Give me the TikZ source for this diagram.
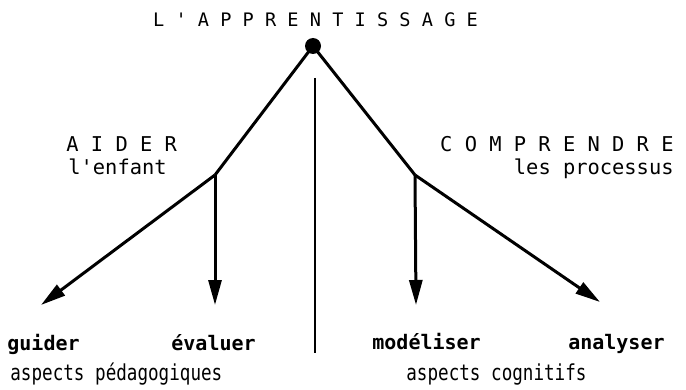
\documentclass[tikz,border=0pt]{standalone}
\usepackage{fontspec}
\setmonofont{DejaVu Sans Mono}
\newfontfamily\narrowmono[FakeStretch=0.8]{DejaVu Sans Mono}
\usepackage{tikz}
\usetikzlibrary{arrows.meta,positioning}

\begin{document}
\begin{tikzpicture}[
  x=0.5pt, y=-0.5pt,
  label/.style={font=\ttfamily\fontsize{10.2}{11}\selectfont, inner sep=0pt, anchor=base},
  title/.style={label, font=\ttfamily\fontsize{9.3}{11}\selectfont},
  leaf/.style={label, font=\ttfamily\bfseries\fontsize{10}{11}\selectfont},
  aspect/.style={label, font=\narrowmono\fontsize{11}{12}\selectfont},
  dot/.style={circle, fill=black, inner sep=0pt, minimum size=8pt},
  branch/.style={line width=1.5pt},
  arr/.style={line width=1.5pt, -{Triangle[length=12.5pt, width=6.5pt]}},
]
  \useasboundingbox (0,0) rectangle (686,390);

  % Top: title and root dot
  \node[title] (title) at (315.5,27) {L ' A P P R E N T I S S A G E};
  \node[dot] (root) at (313,46) {};

  % Branch points
  \coordinate (aider) at (215,175);
  \coordinate (compr) at (415,175);

  % Branch labels
  \node[label, anchor=base west] (aidtxt) at (66,152) {A I D E R};
  \node[label, anchor=base west] (enfant) at (68,175) {l'enfant};
  \node[label, anchor=base east] (comptxt) at (674,152) {C O M P R E N D R E};
  \node[label, anchor=base east] (processus) at (674,175) {les processus};

  % Arrow tips
  \coordinate (guidetip) at (41,305);
  \coordinate (evaltip) at (215,305);
  \coordinate (modtip) at (416,305);
  \coordinate (analtip) at (600,302);

  % Bottom labels
  \node[leaf, anchor=base west] (guider) at (7,350) {guider};
  \node[leaf, anchor=base west] (evaluer) at (171,350) {évaluer};
  \node[leaf, anchor=base west] (modeliser) at (372,349) {modéliser};
  \node[leaf, anchor=base east] (analyser) at (665,349) {analyser};
  \node[aspect, anchor=base west] (pedago) at (10,380) {aspects pédagogiques};
  \node[aspect, anchor=base west] (cognit) at (406,380) {aspects cognitifs};

  % Divider
  \coordinate (divtop) at (315,78);
  \coordinate (divbot) at (315,353);
  \draw[line width=0.8pt] (divtop) -- (divbot);

  % Lines and arrows
  \draw[branch] (root.center) -- (aider);
  \draw[branch] (root.center) -- (compr);
  \draw[arr] (aider) -- (guidetip);
  \draw[arr] (aider) -- (evaltip);
  \draw[arr] (compr) -- (modtip);
  \draw[arr] (compr) -- (analtip);
\end{tikzpicture}
\end{document}
